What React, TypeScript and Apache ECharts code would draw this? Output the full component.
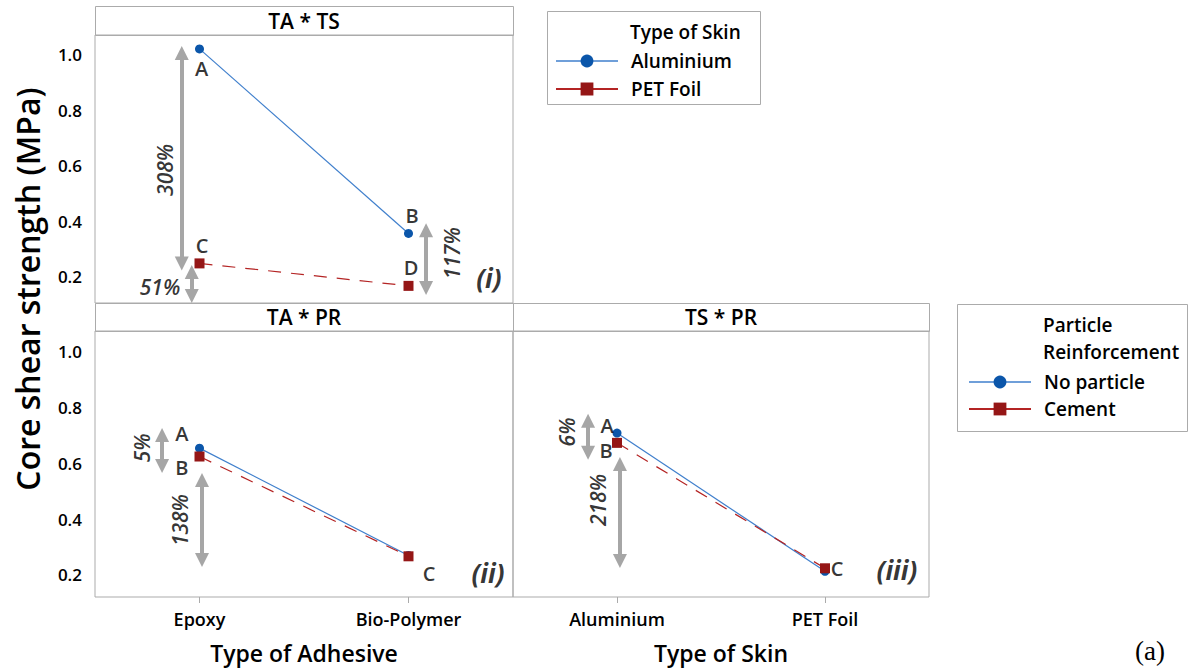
import React, { useEffect, useRef } from 'react';
import * as echarts from 'echarts';

// ---------- data ----------
const adhesiveCategories = ['Epoxy', 'Bio-Polymer'];
const skinCategories = ['Aluminium', 'PET Foil'];
const yTicks = [0.2, 0.4, 0.6, 0.8, 1.0];

// Panel (i) TA * TS  (x = type of adhesive, series = type of skin)
const aluminiumByAdhesive = [1.022, 0.357];
const petFoilByAdhesive = [0.249, 0.168];
// Panel (ii) TA * PR (x = type of adhesive, series = particle reinforcement)
const noParticleByAdhesive = [0.655, 0.27];
const cementByAdhesive = [0.625, 0.267];
// Panel (iii) TS * PR (x = type of skin, series = particle reinforcement)
const noParticleBySkin = [0.709, 0.213];
const cementBySkin = [0.674, 0.224];

// annotation texts: [x in category units (first category at 0.5), y in MPa, text, kind]
const notesPanel1: [number, number, string, string][] = [
  [0.51, 0.953, 'A', 'letter'],
  [1.517, 0.423, 'B', 'letter'],
  [0.512, 0.315, 'C', 'letter'],
  [1.512, 0.236, 'D', 'letter'],
  [0.335, 0.586, '308%', 'rot'],
  [0.311, 0.164, '51%', 'pct'],
  [1.708, 0.286, '117%', 'rot'],
  [1.885, 0.196, '(i)', 'panel'],
];
const notesPanel2: [number, number, string, string][] = [
  [0.416, 0.709, 'A', 'letter'],
  [0.416, 0.587, 'B', 'letter'],
  [1.598, 0.207, 'C', 'letter'],
  [0.225, 0.656, '5%', 'rot'],
  [0.407, 0.397, '138%', 'rot'],
  [1.88, 0.207, '(ii)', 'panel'],
];
const notesPanel3: [number, number, string, string][] = [
  [0.452, 0.735, 'A', 'letter'],
  [0.447, 0.645, 'B', 'letter'],
  [1.558, 0.222, 'C', 'letter'],
  [0.26, 0.713, '6%', 'rot'],
  [0.409, 0.469, '218%', 'rot'],
  [1.846, 0.218, '(iii)', 'panel'],
];
// double arrows: [x, top tip (MPa), bottom tip (MPa)]
const arrowsPanel1: [number, number, number][] = [
  [0.415, 1.032, 0.223],
  [0.463, 0.243, 0.106],
  [1.584, 0.394, 0.135],
];
const arrowsPanel2: [number, number, number][] = [
  [0.321, 0.727, 0.566],
  [0.512, 0.566, 0.229],
];
const arrowsPanel3: [number, number, number][] = [
  [0.361, 0.778, 0.613],
  [0.514, 0.623, 0.225],
];

// ---------- style / layout ----------
const FONT = "'Open Sans', 'Noto Sans', sans-serif";
const INK = '#000000';
const BORDER = '#ababab';
const ARROW = '#a6a6a6';
const BLUE_LINE = '#3f7fcc';
const BLUE_MARK = '#0b56aa';
const RED_LINE = '#b42424';
const RED_MARK = '#951616';
const HEAD = 14;

const grids = [
  { left: 95, top: 35, width: 418, height: 268 },
  { left: 95, top: 331, width: 418, height: 266 },
  { left: 513, top: 331, width: 416, height: 266 },
];
const yRanges = [
  [0.1063, 1.072],
  [0.121, 1.0753],
  [0.121, 1.0753],
];
const xCats = [adhesiveCategories, adhesiveCategories, skinCategories];

function lineSeries(name: string, values: number[], g: number, blue: boolean) {
  return {
    type: 'line',
    name,
    xAxisIndex: g,
    yAxisIndex: g,
    data: values.map((v, i) => [i + 0.5, v]),
    symbol: blue ? 'circle' : 'rect',
    symbolSize: blue ? 9 : 10,
    itemStyle: { color: blue ? BLUE_MARK : RED_MARK },
    lineStyle: blue
      ? { color: BLUE_LINE, width: 1.2, type: 'solid' }
      : { color: RED_LINE, width: 1.2, type: [13, 10] },
    z: blue ? 3 : 4,
    silent: true,
    emphasis: { disabled: true },
  };
}

function noteSeries(notes: [number, number, string, string][], arrows: [number, number, number][], g: number) {
  const [mn, mx] = yRanges[g];
  const half = (HEAD / 2) * (mx - mn) / grids[g].height;
  return {
    type: 'scatter',
    xAxisIndex: g,
    yAxisIndex: g,
    symbolSize: 1,
    silent: true,
    z: 5,
    itemStyle: { color: 'rgba(0,0,0,0)' },
    emphasis: { disabled: true },
    data: notes.map(([x, y, t, kind]) => ({
      value: [x, y],
      name: t,
      label: {
        show: true,
        position: 'inside',
        formatter: t,
        color: INK,
        fontFamily: FONT,
        rotate: kind === 'rot' ? 90 : 0,
        fontSize: kind === 'panel' ? 26 : kind === 'letter' ? 20 : 21,
        lineHeight: kind === 'letter' ? 18 : undefined,
        fontWeight: kind === 'panel' ? 'bold' : 600,
        fontStyle: kind === 'letter' ? 'normal' : 'italic',
      },
    })),
    markLine: {
      silent: true,
      symbol: ['triangle', 'triangle'],
      symbolSize: [HEAD, HEAD],
      label: { show: false },
      emphasis: { disabled: true },
      lineStyle: { color: ARROW, width: 4, type: 'solid' },
      data: arrows.map(([x, y1, y2]) => [
        { coord: [x, y1 - half] },
        { coord: [x, y2 + half] },
      ]),
    },
  };
}

function text(x: number, y: number, t: string, size: number, weight: any = 'normal', align = 'center', extra: any = {}) {
  return {
    type: 'text',
    x,
    y,
    silent: true,
    ...extra,
    style: {
      text: t,
      font: `${weight} ${size}px ${FONT}`,
      fill: INK,
      textAlign: align,
      textVerticalAlign: 'middle',
      align,
      verticalAlign: 'middle',
    },
  };
}

function box(x1: number, y1: number, x2: number, y2: number) {
  return {
    type: 'rect',
    silent: true,
    shape: { x: x1 + 0.5, y: y1 + 0.5, width: x2 - x1, height: y2 - y1 },
    style: { fill: 'none', stroke: BORDER, lineWidth: 1 },
  };
}

const legendText = { fontSize: 19, fontWeight: 600, color: INK, fontFamily: FONT, lineHeight: 20, padding: [0, 0, 0, 8] };

export default function App() {
  const ref = useRef<HTMLDivElement>(null);
  useEffect(() => {
    if (!ref.current) return;
    const chart = echarts.init(ref.current, null, { renderer: 'svg' });
    const option: any = {
      animation: false,
      backgroundColor: '#ffffff',
      textStyle: { fontFamily: FONT },
      grid: grids.map((g) => ({ ...g, show: true, borderColor: BORDER, borderWidth: 1, backgroundColor: 'transparent' })),
      xAxis: grids.map((_, i) => ({
        gridIndex: i,
        type: 'value',
        min: 0,
        max: 2,
        axisLine: { show: false },
        splitLine: { show: false },
        axisTick: { show: i > 0, customValues: [0.5, 1.5], length: 6, lineStyle: { color: BORDER } },
        axisLabel: {
          show: i > 0,
          customValues: [0.5, 1.5],
          formatter: (v: number) => xCats[i][Math.round(v - 0.5)],
          margin: 13,
          fontSize: 18,
          fontWeight: 600,
          color: INK,
          fontFamily: FONT,
        },
        name: i === 1 ? 'Type of Adhesive' : i === 2 ? 'Type of Skin' : '',
        nameLocation: 'middle',
        nameGap: 44,
        nameTextStyle: { fontSize: 23, fontWeight: 600, color: INK, fontFamily: FONT },
      })),
      yAxis: grids.map((_, i) => ({
        gridIndex: i,
        type: 'value',
        min: yRanges[i][0],
        max: yRanges[i][1],
        axisLine: { show: false },
        axisTick: { show: false },
        splitLine: { show: false },
        axisLabel: {
          show: i < 2,
          customValues: yTicks,
          formatter: (v: number) => v.toFixed(1),
          margin: 13,
          fontSize: 17,
          fontWeight: 600,
          color: INK,
          fontFamily: FONT,
        },
      })),
      legend: [
        {
          orient: 'vertical',
          left: 555,
          top: 51,
          itemWidth: 62,
          itemHeight: 16,
          itemGap: 8,
          padding: 0,
          selectedMode: false,
          textStyle: legendText,
          data: [
            { name: 'Aluminium', lineStyle: { type: 'solid', width: 1.5 } },
            { name: 'PET Foil', lineStyle: { type: 'solid', width: 2 } },
          ],
        },
        {
          orient: 'vertical',
          left: 968,
          top: 372,
          itemWidth: 62,
          itemHeight: 16,
          itemGap: 7,
          padding: 0,
          selectedMode: false,
          textStyle: legendText,
          data: [
            { name: 'No particle', lineStyle: { type: 'solid', width: 1.5 } },
            { name: 'Cement', lineStyle: { type: 'solid', width: 2 } },
          ],
        },
      ],
      series: [
        lineSeries('Aluminium', aluminiumByAdhesive, 0, true),
        lineSeries('PET Foil', petFoilByAdhesive, 0, false),
        lineSeries('No particle', noParticleByAdhesive, 1, true),
        lineSeries('Cement', cementByAdhesive, 1, false),
        lineSeries('No particle', noParticleBySkin, 2, true),
        lineSeries('Cement', cementBySkin, 2, false),
        noteSeries(notesPanel1, arrowsPanel1, 0),
        noteSeries(notesPanel2, arrowsPanel2, 1),
        noteSeries(notesPanel3, arrowsPanel3, 2),
      ],
      graphic: [
        box(95, 6, 513, 35),
        box(95, 303, 513, 331),
        box(513, 303, 929, 331),
        text(304, 21, 'TA * TS', 21, 600),
        text(304, 317, 'TA * PR', 21, 600),
        text(721, 317, 'TS * PR', 21, 600),
        box(547, 11, 760, 104),
        text(630, 32, 'Type of Skin', 19, 600, 'left'),
        box(957, 304, 1187, 431),
        text(1043, 325, 'Particle', 19, 600, 'left'),
        text(1043, 352, 'Reinforcement', 19, 600, 'left'),
        text(27, 289, 'Core shear strength (MPa)', 32, 600, 'center', { rotation: Math.PI / 2 }),
        {
          type: 'text',
          x: 1150,
          y: 651,
          silent: true,
          style: {
            text: '(a)',
            font: "normal 27px 'Liberation Serif', 'DejaVu Serif', serif",
            fill: INK,
            textAlign: 'center',
            textVerticalAlign: 'middle',
            align: 'center',
            verticalAlign: 'middle',
          },
        },
      ],
    };
    chart.setOption(option);
    return () => chart.dispose();
  }, []);
  return <div ref={ref} style={{ width: 1188, height: 668, position: 'absolute', left: 0, top: 0 }} />;
}
